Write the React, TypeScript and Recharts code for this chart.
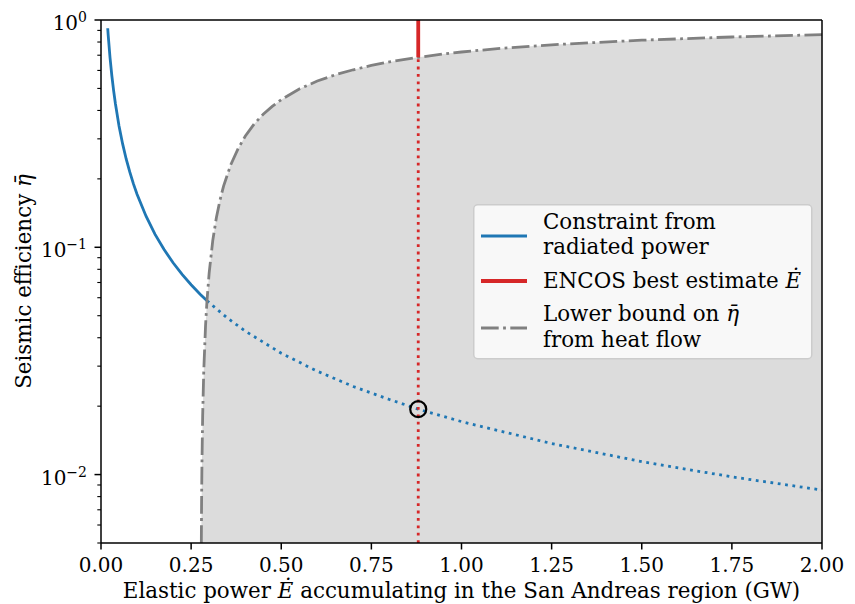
import {
  ComposedChart,
  Area,
  Line,
  XAxis,
  YAxis,
  ReferenceLine,
  ReferenceDot,
  Legend,
  Label
} from 'recharts';

const FONT = '"DejaVu Serif", "Liberation Serif", serif';
const TICK_FS = 20;
const LABEL_FS = 21.4;

// radiated-power constraint, solid part (allowed region)
const radiatedE = [0.0186, 0.02, 0.025, 0.03, 0.035, 0.04, 0.05, 0.06, 0.07, 0.08, 0.09, 0.1, 0.125, 0.15, 0.175, 0.2, 0.225, 0.25, 0.275, 0.294];
const radiatedEta = [0.92, 0.855, 0.684, 0.57, 0.489, 0.428, 0.342, 0.285, 0.244, 0.214, 0.19, 0.171, 0.137, 0.114, 0.0977, 0.0855, 0.076, 0.0684, 0.0622, 0.0582];

// same constraint continued inside the excluded (shaded) region
const excludedE = [0.294, 0.35, 0.4, 0.5, 0.6, 0.7, 0.8, 0.88, 1.0, 1.25, 1.5, 1.75, 2.0];
const excludedEta = [0.0582, 0.0489, 0.0428, 0.0342, 0.0285, 0.0244, 0.0214, 0.0194, 0.0171, 0.0137, 0.0114, 0.00977, 0.00855];

// lower bound on efficiency from heat flow
const heatE = [
  0.2783, 0.279, 0.28, 0.282, 0.285, 0.29, 0.294, 0.3, 0.31, 0.32, 0.33, 0.34, 0.36, 0.38, 0.4, 0.425,
  0.45, 0.475, 0.5, 0.55, 0.6, 0.65, 0.7, 0.75, 0.8, 0.88, 0.95, 1.0, 1.1, 1.25, 1.5, 1.75, 2.0
];
const heatEta = [
  0.005, 0.0075, 0.0111, 0.0181, 0.0284, 0.0452, 0.0582, 0.077, 0.107, 0.135, 0.161, 0.186, 0.231, 0.271, 0.308, 0.349,
  0.385, 0.417, 0.446, 0.497, 0.539, 0.574, 0.604, 0.631, 0.654, 0.685, 0.709, 0.723, 0.748, 0.778, 0.815, 0.842, 0.862
];

const encosE = 0.88;

const xTicks = [0, 0.25, 0.5, 0.75, 1.0, 1.25, 1.5, 1.75, 2.0];
const yMajorTicks = [0.01, 0.1, 1];
const yMinorTicks = [
  0.005, 0.006, 0.007, 0.008, 0.009,
  0.02, 0.03, 0.04, 0.05, 0.06, 0.07, 0.08, 0.09,
  0.2, 0.3, 0.4, 0.5, 0.6, 0.7, 0.8, 0.9
];
const Y_DOMAIN = [0.005, 1];

const radiatedData = radiatedE.map((e, i) => ({ e, eta: radiatedEta[i] }));
const excludedData = excludedE.map((e, i) => ({ e, eta: excludedEta[i] }));
// shaded region lies below the heat-flow bound
const heatData = heatE.map((e, i) => ({ e, eta: heatEta[i], band: [Y_DOMAIN[0], heatEta[i]] }));

const heatAtEncos = heatEta[heatE.indexOf(encosE)];
const etaAtEncos = excludedEta[excludedE.indexOf(encosE)];

const BLUE = '#1f77b4';
const RED = '#d62728';
const GRAY = '#808080';
const DASHDOT = '17.7 4.4 2.8 4.4';
const DOTTED = '2.8 4.6';

const XTick = (props: any) => {
  const { x, y, payload } = props;
  return (
    <g>
      <line x1={x} x2={x} y1={y} y2={y + 6.5} stroke="#000" strokeWidth={1.5} />
      <text x={x} y={y + 29} textAnchor="middle" fontFamily={FONT} fontSize={TICK_FS} fill="#000">
        {payload.value.toFixed(2)}
      </text>
    </g>
  );
};

const YTick = (props: any) => {
  const { x, y, payload } = props;
  const v = payload.value;
  const major = yMajorTicks.includes(v);
  if (!major) {
    return <line x1={x} x2={x - 3.7} y1={y} y2={y} stroke="#000" strokeWidth={1.1} />;
  }
  const exp = Math.round(Math.log10(v));
  const expText = exp < 0 ? `\u2212${-exp}` : `${exp}`;
  return (
    <g>
      <line x1={x} x2={x - 6.5} y1={y} y2={y} stroke="#000" strokeWidth={1.5} />
      <text x={x - 14} y={y + 10} textAnchor="end" fontFamily={FONT} fontSize={TICK_FS} fill="#000">
        10<tspan dy={-8} fontSize={14}>{expText}</tspan>
      </text>
    </g>
  );
};

const XLabel = (props: any) => {
  const { viewBox } = props;
  return (
    <text x={viewBox.x + viewBox.width / 2} y={viewBox.y + 55} textAnchor="middle" fontFamily={FONT} fontSize={LABEL_FS} fill="#000">
      Elastic power <tspan fontStyle="italic">E{'\u0307'}</tspan> accumulating in the San Andreas region (GW)
    </text>
  );
};

const YLabel = (props: any) => {
  const { viewBox } = props;
  const cx = 31;
  const cy = viewBox.y + viewBox.height / 2;
  return (
    <text x={cx} y={cy} transform={`rotate(-90 ${cx} ${cy})`} textAnchor="middle" fontFamily={FONT} fontSize={LABEL_FS} fill="#000">
      Seismic efficiency <tspan fontStyle="italic">{'\u03b7\u0304'}</tspan>
    </text>
  );
};

const LegendBox = () => (
  <svg width={340} height={156} style={{ display: 'block' }}>
    <rect x={0.75} y={0.75} width={338} height={154} rx={4} fill="#ffffff" fillOpacity={0.8} stroke="#cccccc" strokeWidth={1.5} />
    <line x1={8} x2={54} y1={32} y2={32} stroke={BLUE} strokeWidth={2.8} />
    <text x={70} y={25} fontFamily={FONT} fontSize={LABEL_FS} fill="#000">Constraint from</text>
    <text x={70} y={50} fontFamily={FONT} fontSize={LABEL_FS} fill="#000">radiated power</text>
    <line x1={8} x2={54} y1={77} y2={77} stroke={RED} strokeWidth={3.8} />
    <text x={70} y={84} fontFamily={FONT} fontSize={LABEL_FS} fill="#000">
      ENCOS best estimate <tspan fontStyle="italic">E{'\u0307'}</tspan>
    </text>
    <line x1={8} x2={54} y1={124} y2={124} stroke={GRAY} strokeWidth={2.8} strokeDasharray={DASHDOT} />
    <text x={70} y={117} fontFamily={FONT} fontSize={LABEL_FS} fill="#000">
      Lower bound on <tspan fontStyle="italic">{'\u03b7\u0304'}</tspan>
    </text>
    <text x={70} y={143} fontFamily={FONT} fontSize={LABEL_FS} fill="#000">from heat flow</text>
  </svg>
);

export default function App() {
  return (
    <div style={{ position: 'absolute', left: 0, top: 0, width: 855, height: 604, background: '#fff' }}>
      <ComposedChart width={855} height={604} margin={{ top: 20, right: 33, bottom: 0, left: 0 }}>
        <XAxis
          dataKey="e"
          type="number"
          domain={[0, 2]}
          ticks={xTicks}
          interval={0}
          allowDataOverflow
          height={61}
          tickSize={0}
          tickMargin={0}
          tickLine={false}
          tick={<XTick />}
          axisLine={{ stroke: '#000', strokeWidth: 1.5 }}
        >
          <Label content={XLabel} />
        </XAxis>
        <YAxis
          type="number"
          scale="log"
          domain={Y_DOMAIN}
          ticks={[...yMinorTicks, ...yMajorTicks]}
          interval={0}
          allowDataOverflow
          width={101}
          tickSize={0}
          tickMargin={0}
          tickLine={false}
          tick={<YTick />}
          axisLine={{ stroke: '#000', strokeWidth: 1.5 }}
        >
          <Label content={YLabel} />
        </YAxis>

        <Area
          data={heatData}
          dataKey="band"
          type="linear"
          stroke="none"
          fill="#dcdcdc"
          fillOpacity={1}
          isAnimationActive={false}
        />
        <Line data={radiatedData} dataKey="eta" type="linear" stroke={BLUE} strokeWidth={2.8} dot={false} activeDot={false} isAnimationActive={false} />
        <Line data={excludedData} dataKey="eta" type="linear" stroke={BLUE} strokeWidth={2.8} strokeDasharray={DOTTED} dot={false} activeDot={false} isAnimationActive={false} />
        <Line data={heatData} dataKey="eta" type="linear" stroke={GRAY} strokeWidth={2.8} strokeDasharray={DASHDOT} dot={false} activeDot={false} isAnimationActive={false} />

        <ReferenceLine segment={[{ x: encosE, y: Y_DOMAIN[0] }, { x: encosE, y: heatAtEncos }]} stroke={RED} strokeWidth={2.8} strokeDasharray={DOTTED} />
        <ReferenceLine segment={[{ x: encosE, y: heatAtEncos }, { x: encosE, y: Y_DOMAIN[1] }]} stroke={RED} strokeWidth={3.8} />
        <ReferenceDot x={encosE} y={etaAtEncos} r={8} fill="none" stroke="#000" strokeWidth={2.2} />

        {/* top and right spines */}
        <ReferenceLine y={Y_DOMAIN[1]} stroke="#000" strokeWidth={1.5} />
        <ReferenceLine x={2} stroke="#000" strokeWidth={1.5} />

        <Legend
          layout="horizontal"
          verticalAlign="middle"
          align="center"
          content={<LegendBox />}
          wrapperStyle={{ position: 'absolute', left: 473, top: 204, width: 340, height: 156 }}
        />
      </ComposedChart>
    </div>
  );
}
